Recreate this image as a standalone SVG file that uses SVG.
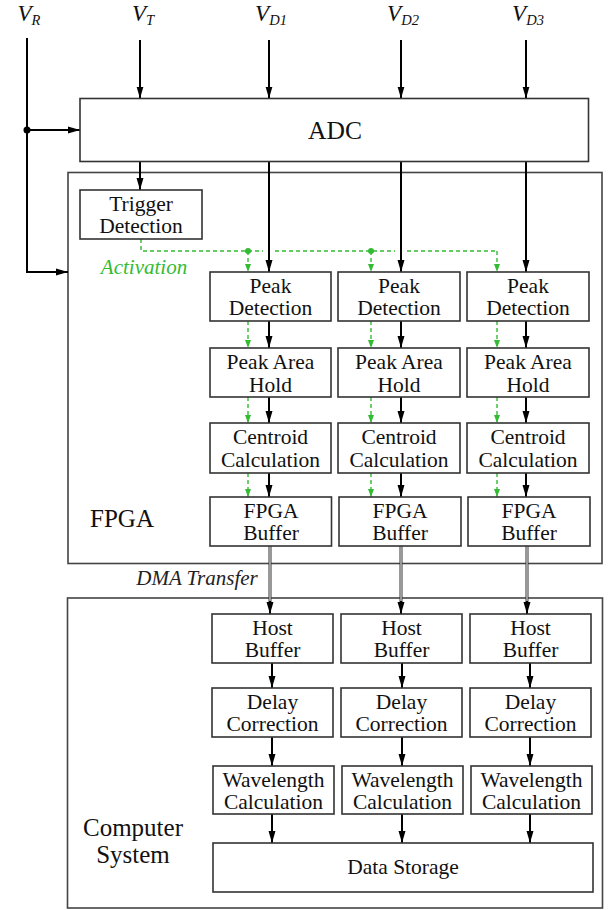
<svg xmlns="http://www.w3.org/2000/svg" width="610" height="910" viewBox="0 0 610 910" font-family="Liberation Serif, DejaVu Serif, serif">
<style>
.bg{fill:#fff}
.box{fill:#fff;stroke:#333;stroke-width:1.6}
.frame{fill:none;stroke:#444;stroke-width:1.6}
.t{font-size:21.5px;fill:#111;text-anchor:middle}
.big{font-size:25px;fill:#111;text-anchor:middle}
.lab{font-style:italic;font-size:23px;fill:#111;text-anchor:middle}
.sub{font-size:14.5px}
.it{font-style:italic;font-size:21px;fill:#222}
.gt{fill:#33bb33}
.ln{fill:none;stroke:#000;stroke-width:2}
.arr{marker-end:url(#ah)}
.g{fill:none;stroke:#33bb33;stroke-width:1.4;stroke-dasharray:4,3}
.garr{marker-end:url(#gh)}
.dma1{fill:none;stroke:#333;stroke-width:3}
.dma2{fill:none;stroke:#fff;stroke-width:1}
</style>
<defs>
<marker id="ah" markerUnits="userSpaceOnUse" markerWidth="12" markerHeight="8" refX="12" refY="4" orient="auto"><path d="M0,0.5 L12,4 L0,7.5 z" fill="#000"/></marker>
<marker id="gh" markerUnits="userSpaceOnUse" markerWidth="8" markerHeight="7" refX="8" refY="3.5" orient="auto"><path d="M0,0.5 L8,3.5 L0,6.5 z" fill="#33bb33"/></marker>
</defs>
<rect class="bg" x="0" y="0" width="610" height="910"/>

<g id="labels" font-family="Liberation Serif, serif">
<text class="lab" x="29" y="21">V<tspan class="sub" dy="4">R</tspan></text>
<text class="lab" x="143" y="21">V<tspan class="sub" dy="4">T</tspan></text>
<text class="lab" x="271" y="21">V<tspan class="sub" dy="4">D1</tspan></text>
<text class="lab" x="403" y="21">V<tspan class="sub" dy="4">D2</tspan></text>
<text class="lab" x="528" y="21">V<tspan class="sub" dy="4">D3</tspan></text>
</g>

<g id="fpga-frame">
<rect class="frame" x="68" y="172.5" width="534" height="391"/>
<text class="big" x="122" y="527" font-family="Liberation Serif, serif">FPGA</text>
</g>
<g id="computer-frame">
<rect class="frame" x="67.5" y="598" width="535" height="310"/>
<text class="big" x="133" y="836" font-family="Liberation Serif, serif">Computer</text>
<text class="big" x="133" y="863" font-family="Liberation Serif, serif">System</text>
</g>

<g id="connectors">
<path class="ln arr" d="M27,38 V272 H68"/>
<path class="ln arr" d="M27,130 H80"/>
<circle cx="27" cy="130" r="3.5" fill="#000"/>
<path class="ln arr" d="M140,40 V98.5"/>
<path class="ln arr" d="M269,40 V98.5"/>
<path class="ln arr" d="M401,40 V98.5"/>
<path class="ln arr" d="M526,40 V98.5"/>
<path class="ln arr" d="M140,161.5 V190"/>
<path class="ln arr" d="M269,161.5 V272"/>
<path class="ln arr" d="M401,161.5 V272"/>
<path class="ln arr" d="M526,161.5 V272"/>
<path class="g" d="M141,239 V251 H263"/>
<path class="g" d="M275,251 H395"/>
<path class="g" d="M407,251 H497"/>
<circle cx="248" cy="251" r="3" fill="#33bb33"/>
<circle cx="371" cy="251" r="3" fill="#33bb33"/>
<path class="g garr" d="M248,251 V272"/>
<path class="g garr" d="M371,251 V272"/>
<path class="g garr" d="M497,251 V272"/>
<path class="ln arr" d="M269,321 V348"/>
<path class="ln arr" d="M401,321 V348"/>
<path class="ln arr" d="M526,321 V348"/>
<path class="g garr" d="M248,321 V348"/>
<path class="g garr" d="M371,321 V348"/>
<path class="g garr" d="M497,321 V348"/>
<path class="ln arr" d="M269,397 V423"/>
<path class="ln arr" d="M401,397 V423"/>
<path class="ln arr" d="M526,397 V423"/>
<path class="g garr" d="M248,397 V423"/>
<path class="g garr" d="M371,397 V423"/>
<path class="g garr" d="M497,397 V423"/>
<path class="ln arr" d="M269,473 V497"/>
<path class="ln arr" d="M401,473 V497"/>
<path class="ln arr" d="M526,473 V497"/>
<path class="g garr" d="M248,473 V497"/>
<path class="g garr" d="M371,473 V497"/>
<path class="g garr" d="M497,473 V497"/>
<path class="dma1" d="M270,546 V603"/>
<path class="dma2" d="M270,546 V603"/>
<path class="ln arr" d="M270,601 V614"/>
<path class="dma1" d="M401,546 V603"/>
<path class="dma2" d="M401,546 V603"/>
<path class="ln arr" d="M401,601 V614"/>
<path class="dma1" d="M527,546 V603"/>
<path class="dma2" d="M527,546 V603"/>
<path class="ln arr" d="M527,601 V614"/>
<path class="ln arr" d="M272,663 V688"/>
<path class="ln arr" d="M402,663 V688"/>
<path class="ln arr" d="M530,663 V688"/>
<path class="ln arr" d="M272,737 V766"/>
<path class="ln arr" d="M402,737 V766"/>
<path class="ln arr" d="M530,737 V766"/>
<path class="ln arr" d="M272,814 V843"/>
<path class="ln arr" d="M402,814 V843"/>
<path class="ln arr" d="M530,814 V843"/>
</g>
<g font-family="Liberation Serif, serif">
<text class="it gt" x="144" y="274" text-anchor="middle">Activation</text>
<text class="it" x="197" y="585" text-anchor="middle">DMA Transfer</text>
</g>

<g font-family="Liberation Serif, serif">
<g id="adc"><rect class="box" x="80" y="98.5" width="508.5" height="63"/><text class="t" x="335" y="139" style="font-size:25.5px">ADC</text></g>
<g id="trigger"><rect class="box" x="80" y="190" width="122" height="49"/><text class="t" x="141" y="211">Trigger</text><text class="t" x="141" y="233">Detection</text></g>

<g id="peak1"><rect class="box" x="210" y="272" width="121" height="49"/><text class="t" x="270.5" y="293">Peak</text><text class="t" x="270.5" y="315">Detection</text></g>
<g id="peak2"><rect class="box" x="338" y="272" width="122" height="49"/><text class="t" x="399" y="293">Peak</text><text class="t" x="399" y="315">Detection</text></g>
<g id="peak3"><rect class="box" x="467" y="272" width="122" height="49"/><text class="t" x="528" y="293">Peak</text><text class="t" x="528" y="315">Detection</text></g>

<g id="hold1"><rect class="box" x="210" y="348" width="121" height="49"/><text class="t" x="270.5" y="369">Peak Area</text><text class="t" x="270.5" y="391.5">Hold</text></g>
<g id="hold2"><rect class="box" x="338" y="348" width="122" height="49"/><text class="t" x="399" y="369">Peak Area</text><text class="t" x="399" y="391.5">Hold</text></g>
<g id="hold3"><rect class="box" x="467" y="348" width="122" height="49"/><text class="t" x="528" y="369">Peak Area</text><text class="t" x="528" y="391.5">Hold</text></g>

<g id="cent1"><rect class="box" x="210" y="423" width="121" height="50"/><text class="t" x="270.5" y="444">Centroid</text><text class="t" x="270.5" y="467">Calculation</text></g>
<g id="cent2"><rect class="box" x="338" y="423" width="122" height="50"/><text class="t" x="399" y="444">Centroid</text><text class="t" x="399" y="467">Calculation</text></g>
<g id="cent3"><rect class="box" x="467" y="423" width="122" height="50"/><text class="t" x="528" y="444">Centroid</text><text class="t" x="528" y="467">Calculation</text></g>

<g id="fbuf1"><rect class="box" x="210" y="497" width="121.5" height="49"/><text class="t" x="271" y="518">FPGA</text><text class="t" x="271" y="540">Buffer</text></g>
<g id="fbuf2"><rect class="box" x="339" y="497" width="122" height="49"/><text class="t" x="400" y="518">FPGA</text><text class="t" x="400" y="540">Buffer</text></g>
<g id="fbuf3"><rect class="box" x="468" y="497" width="122" height="49"/><text class="t" x="529" y="518">FPGA</text><text class="t" x="529" y="540">Buffer</text></g>

<g id="host1"><rect class="box" x="212" y="614" width="121" height="49"/><text class="t" x="272.5" y="635">Host</text><text class="t" x="272.5" y="657">Buffer</text></g>
<g id="host2"><rect class="box" x="341" y="614" width="121" height="49"/><text class="t" x="401.5" y="635">Host</text><text class="t" x="401.5" y="657">Buffer</text></g>
<g id="host3"><rect class="box" x="470" y="614" width="121" height="49"/><text class="t" x="530.5" y="635">Host</text><text class="t" x="530.5" y="657">Buffer</text></g>

<g id="delay1"><rect class="box" x="212" y="688" width="121" height="49"/><text class="t" x="272.5" y="709">Delay</text><text class="t" x="272.5" y="731">Correction</text></g>
<g id="delay2"><rect class="box" x="341" y="688" width="121" height="49"/><text class="t" x="401.5" y="709">Delay</text><text class="t" x="401.5" y="731">Correction</text></g>
<g id="delay3"><rect class="box" x="470" y="688" width="121" height="49"/><text class="t" x="530.5" y="709">Delay</text><text class="t" x="530.5" y="731">Correction</text></g>

<g id="wave1"><rect class="box" x="213" y="766" width="121" height="48"/><text class="t" x="273.5" y="786.5">Wavelength</text><text class="t" x="273.5" y="809">Calculation</text></g>
<g id="wave2"><rect class="box" x="342" y="766" width="121" height="48"/><text class="t" x="402.5" y="786.5">Wavelength</text><text class="t" x="402.5" y="809">Calculation</text></g>
<g id="wave3"><rect class="box" x="471" y="766" width="121" height="48"/><text class="t" x="531.5" y="786.5">Wavelength</text><text class="t" x="531.5" y="809">Calculation</text></g>

<g id="storage"><rect class="box" x="213" y="843" width="380" height="49"/><text class="t" x="403" y="874">Data Storage</text></g>
</g>
</svg>
